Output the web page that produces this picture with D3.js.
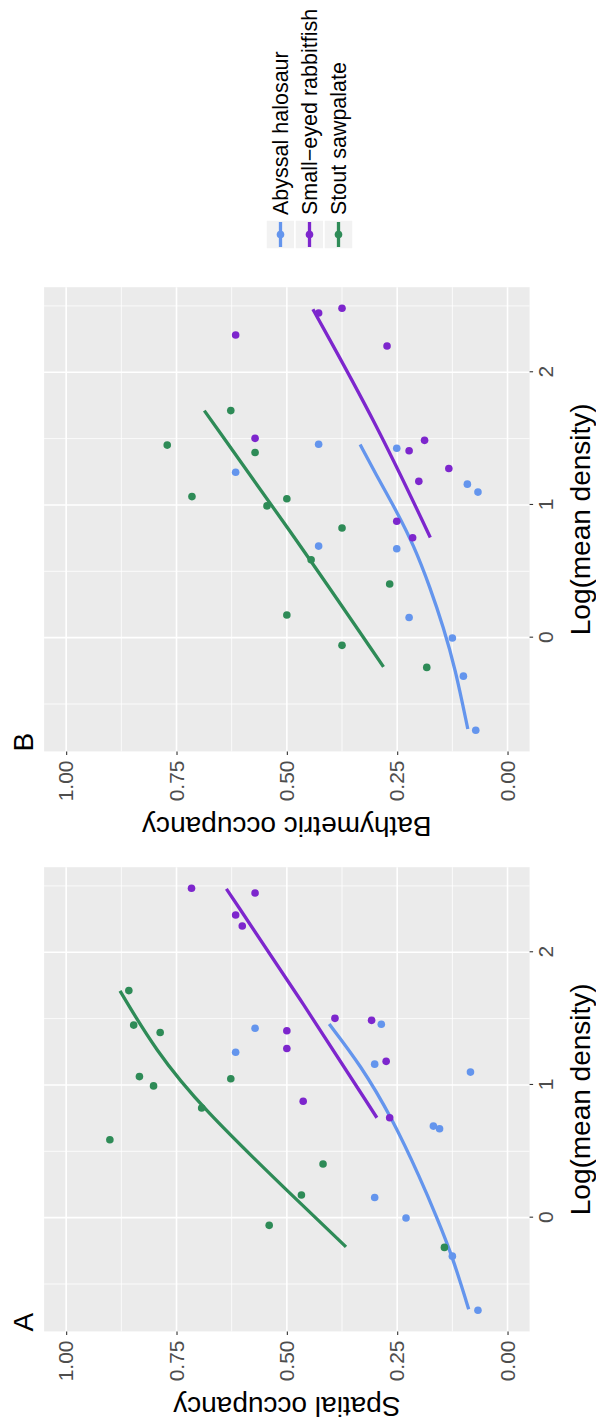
<!DOCTYPE html>
<html>
<head>
<meta charset="utf-8">
<script src="https://cdn.jsdelivr.net/npm/d3@7"></script>
<style>
  body { margin: 0; background: #fff; }
  svg { display: block; }
  text { font-family: "Liberation Sans", Arial, Helvetica, sans-serif; }
</style>
</head>
<body>
<div id="chart"></div>
<script>
// species and colours
const species = ["Abyssal halosaur", "Small\u2212eyed rabbitfish", "Stout sawpalate"];
const colors = ["#6495ED", "#7D26CD", "#2E8B57"];

// log(mean density) per site, with spatial (A) and bathymetric (B) occupancy
const halosaurDensity = [1.458, 1.427, 1.247, 1.157, 1.097, 0.690, 0.670, 0.152, -0.003, -0.290, -0.698];
const halosaurSpatial = [0.286, 0.572, 0.616, 0.301, 0.084, 0.168, 0.154, 0.301, 0.230, 0.125, 0.067];
const halosaurBathy   = [0.428, 0.251, 0.616, 0.091, 0.067, 0.428, 0.251, 0.223, 0.125, 0.100, 0.072];

const rabbitfishDensity = [2.482, 2.447, 2.281, 2.198, 1.502, 1.487, 1.408, 1.275, 1.178, 0.877, 0.753];
const rabbitfishSpatial = [0.716, 0.572, 0.616, 0.601, 0.391, 0.308, 0.500, 0.500, 0.275, 0.463, 0.267];
const rabbitfishBathy   = [0.375, 0.428, 0.616, 0.273, 0.572, 0.188, 0.223, 0.133, 0.201, 0.251, 0.215];

const sawpalateDensity = [1.711, 1.451, 1.395, 1.063, 1.047, 0.993, 0.827, 0.587, 0.404, 0.171, -0.058, -0.224];
const sawpalateSpatial = [0.858, 0.847, 0.787, 0.834, 0.627, 0.802, 0.693, 0.901, 0.418, 0.467, 0.540, 0.143];
const sawpalateBathy   = [0.627, 0.771, 0.572, 0.715, 0.500, 0.545, 0.375, 0.445, 0.267, 0.500, 0.375, 0.183];

// fitted curves (density, occupancy)
const fitSpatialHalosaurD   = [-0.690, -0.290, 0.000, 0.284, 0.753, 1.150, 1.459];
const fitSpatialHalosaurV   = [0.088, 0.125, 0.160, 0.196, 0.262, 0.333, 0.404];
const fitSpatialRabbitfishD = [0.753, 1.600, 2.478];
const fitSpatialRabbitfishV = [0.296, 0.460, 0.637];
const fitSpatialSawpalateD  = [-0.220, 0.173, 0.829, 1.258, 1.709];
const fitSpatialSawpalateV  = [0.366, 0.490, 0.693, 0.797, 0.878];

const fitBathyHalosaurD   = [-0.688, -0.225, 0.075, 0.375, 0.700, 0.950, 1.175, 1.455];
const fitBathyHalosaurV   = [0.090, 0.119, 0.145, 0.175, 0.213, 0.251, 0.289, 0.334];
const fitBathyRabbitfishD = [0.755, 1.600, 2.475];
const fitBathyRabbitfishV = [0.175, 0.295, 0.441];
const fitBathySawpalateD  = [-0.220, 0.700, 1.711];
const fitBathySawpalateV  = [0.281, 0.470, 0.687];

// axis ticks
const densityTicks = [0, 1, 2];
const densityMinor = [-0.5, 0.5, 1.5, 2.5];
const occTicks = [0, 0.25, 0.5, 0.75, 1];
const occMinor = [0.125, 0.375, 0.625, 0.875];

const zip = (d, v) => d.map((x, i) => ({d: x, v: v[i]}));

const panels = [
  {
    label: "A", title: "Spatial occupancy", left: 90.6,
    points: [zip(halosaurDensity, halosaurSpatial), zip(rabbitfishDensity, rabbitfishSpatial), zip(sawpalateDensity, sawpalateSpatial)],
    fits: [zip(fitSpatialHalosaurD, fitSpatialHalosaurV), zip(fitSpatialRabbitfishD, fitSpatialRabbitfishV), zip(fitSpatialSawpalateD, fitSpatialSawpalateV)]
  },
  {
    label: "B", title: "Bathymetric occupancy", left: 670.6,
    points: [zip(halosaurDensity, halosaurBathy), zip(rabbitfishDensity, rabbitfishBathy), zip(sawpalateDensity, sawpalateBathy)],
    fits: [zip(fitBathyHalosaurD, fitBathyHalosaurV), zip(fitBathyRabbitfishD, fitBathyRabbitfishV), zip(fitBathySawpalateD, fitBathySawpalateV)]
  }
];

// the figure is laid out as a normal landscape plot, then turned a quarter turn
const W = 1422;
const panelW = 464.2, panelTop = 44.1, panelBottom = 529.6;

const svg = d3.select("#chart").append("svg")
  .attr("width", 596)
  .attr("height", 1422);

const root = svg.append("g")
  .attr("transform", `translate(0, ${W}) rotate(-90)`);

const allD = halosaurDensity.concat(rabbitfishDensity, sawpalateDensity);
const [dMin, dMax] = d3.extent(allD);
const pad = (dMax - dMin) * 0.05;

const y = d3.scaleLinear().domain([-0.05, 1.05]).range([panelBottom, panelTop]);

panels.forEach(p => {
  const x = d3.scaleLinear().domain([dMin - pad, dMax + pad]).range([p.left, p.left + panelW]);
  const g = root.append("g");

  g.append("rect")
    .attr("x", p.left).attr("y", panelTop)
    .attr("width", panelW).attr("height", panelBottom - panelTop)
    .attr("fill", "#EBEBEB");

  // grid
  g.selectAll(".vminor").data(densityMinor).join("line")
    .attr("x1", d => x(d)).attr("x2", d => x(d))
    .attr("y1", panelTop).attr("y2", panelBottom)
    .attr("stroke", "#fff").attr("stroke-width", 0.8);
  g.selectAll(".hminor").data(occMinor).join("line")
    .attr("x1", p.left).attr("x2", p.left + panelW)
    .attr("y1", d => y(d)).attr("y2", d => y(d))
    .attr("stroke", "#fff").attr("stroke-width", 0.8);
  g.selectAll(".vmajor").data(densityTicks).join("line")
    .attr("x1", d => x(d)).attr("x2", d => x(d))
    .attr("y1", panelTop).attr("y2", panelBottom)
    .attr("stroke", "#fff").attr("stroke-width", 1.6);
  g.selectAll(".hmajor").data(occTicks).join("line")
    .attr("x1", p.left).attr("x2", p.left + panelW)
    .attr("y1", d => y(d)).attr("y2", d => y(d))
    .attr("stroke", "#fff").attr("stroke-width", 1.6);

  // axes
  const xAxis = g.append("g")
    .attr("transform", `translate(0, ${panelBottom})`)
    .call(d3.axisBottom(x).tickValues(densityTicks).tickFormat(d3.format("d")).tickSize(3.5).tickPadding(5));
  const yAxis = g.append("g")
    .attr("transform", `translate(${p.left}, 0)`)
    .call(d3.axisLeft(y).tickValues(occTicks).tickFormat(d3.format(".2f")).tickSize(3.5).tickPadding(5.6));
  [xAxis, yAxis].forEach(a => {
    a.select(".domain").remove();
    a.selectAll(".tick line").attr("stroke", "#333").attr("stroke-width", 1.1);
    a.selectAll(".tick text").attr("fill", "#4D4D4D").style("font-size", "21px");
  });

  // fitted curves
  const line = d3.line().x(d => x(d.d)).y(d => y(d.v)).curve(d3.curveBasis);
  p.fits.forEach((f, i) => {
    g.append("path")
      .datum(f)
      .attr("d", line)
      .attr("fill", "none")
      .attr("stroke", colors[i])
      .attr("stroke-width", 3.3);
  });

  // points
  p.points.forEach((pts, i) => {
    g.selectAll(null).data(pts).join("circle")
      .attr("cx", d => x(d.d))
      .attr("cy", d => y(d.v))
      .attr("r", 3.8)
      .attr("fill", colors[i]);
  });

  // titles
  g.append("text")
    .attr("x", p.left + panelW / 2)
    .attr("y", 590)
    .attr("text-anchor", "middle")
    .style("font-size", "28px")
    .text("Log(mean density)");
  g.append("text")
    .attr("transform", `translate(${p.left - 65.6}, ${(panelTop + panelBottom) / 2}) rotate(-90)`)
    .attr("text-anchor", "middle")
    .style("font-size", "28px")
    .text(p.title);
  g.append("text")
    .attr("x", p.left)
    .attr("y", 33)
    .style("font-size", "28px")
    .text(p.label);
});

// legend
const legend = root.append("g").attr("transform", "translate(1173, 266)");
const key = 29;
species.forEach((s, i) => {
  const k = legend.append("g").attr("transform", `translate(0, ${i * key})`);
  k.append("rect")
    .attr("width", key).attr("height", key)
    .attr("fill", "#F2F2F2").attr("stroke", "#fff").attr("stroke-width", 1.5);
  k.append("line")
    .attr("x1", 2).attr("x2", key - 2)
    .attr("y1", key / 2).attr("y2", key / 2)
    .attr("stroke", colors[i]).attr("stroke-width", 3.3);
  k.append("circle")
    .attr("cx", key / 2).attr("cy", key / 2).attr("r", 3.8)
    .attr("fill", colors[i]);
  k.append("text")
    .attr("x", key + 5)
    .attr("y", key / 2 + 7.6)
    .style("font-size", "21.5px")
    .text(s);
});
</script>
</body>
</html>
